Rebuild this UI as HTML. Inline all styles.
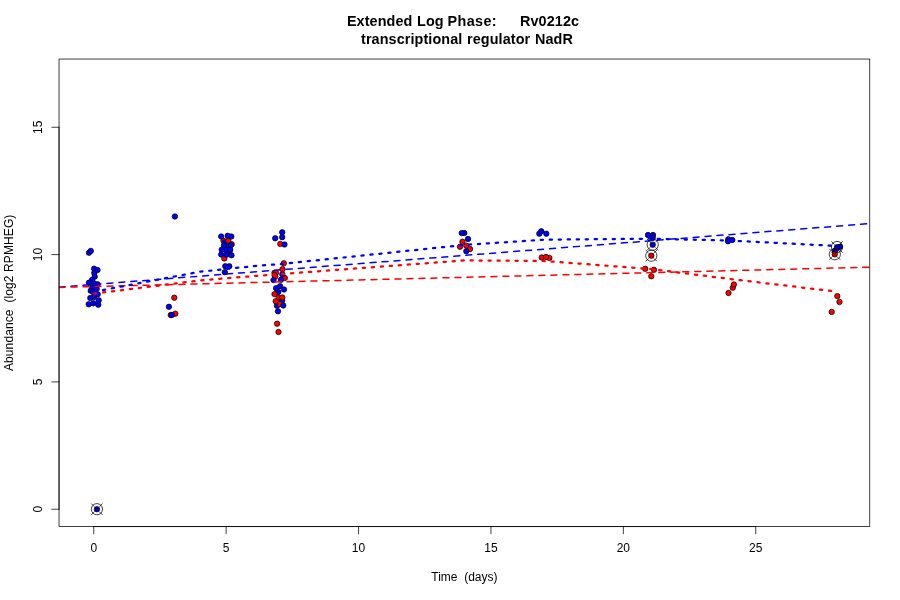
<!DOCTYPE html>
<html lang="en"><head><meta charset="utf-8"><title>Extended Log Phase: Rv0212c transcriptional regulator NadR</title>
<style>html,body{margin:0;padding:0;background:#fff}body{width:900px;height:600px;overflow:hidden}svg{display:block}text{font-family:"Liberation Sans",sans-serif;fill:#000;white-space:pre}.p circle{stroke:#000;stroke-width:.75}.b{fill:#00f}.r{fill:#f00}.m{fill:none;stroke:#000;stroke-width:.75}.mx{fill:none;stroke:#000;stroke-width:.75;stroke-opacity:.6}.ax{fill:none;stroke:#000;stroke-width:.75;stroke-linecap:round}.ln{fill:none;stroke-linecap:round;stroke-linejoin:round}</style></head><body>
<svg width="900" height="600" viewBox="0 0 900 600">
<rect width="900" height="600" fill="#fff"/>
<defs><clipPath id="c"><rect x="59.04" y="59.04" width="810.72" height="467.52"/></clipPath></defs>
<g clip-path="url(#c)">
<g class="p"><circle class="b" cx="97.6" cy="284.3" r="2.7"/><circle class="r" cx="274.5" cy="272.8" r="2.7"/><circle class="r" cx="276" cy="272.8" r="2.7"/><circle class="r" cx="274.6" cy="275.2" r="2.7"/><circle class="r" cx="275.3" cy="276.6" r="2.7"/></g>
<path class="ln" d="M59.04 287.2 L869.76 223.6" stroke="#00f" stroke-width="1.5" stroke-dasharray="6 6"/>
<g class="p"><circle class="b" cx="89" cy="252.7" r="2.7"/><circle class="b" cx="90.8" cy="250.9" r="2.7"/><circle class="b" cx="94.1" cy="268.7" r="2.7"/><circle class="b" cx="97.5" cy="270" r="2.7"/><circle class="b" cx="94.3" cy="273" r="2.7"/><circle class="b" cx="94.7" cy="276.7" r="2.7"/><circle class="b" cx="92" cy="280" r="2.7"/><circle class="b" cx="92.3" cy="287.6" r="2.7"/><circle class="b" cx="94" cy="297" r="2.7"/><circle class="b" cx="88.9" cy="282.7" r="2.7"/><circle class="b" cx="94" cy="283.3" r="2.7"/><circle class="b" cx="96.7" cy="288.7" r="2.7"/><circle class="b" cx="90.7" cy="290.7" r="2.7"/><circle class="b" cx="93" cy="292" r="2.7"/><circle class="b" cx="97.7" cy="294.3" r="2.7"/><circle class="b" cx="90.3" cy="298" r="2.7"/><circle class="b" cx="98.7" cy="300.3" r="2.7"/><circle class="b" cx="88.7" cy="304.3" r="2.7"/><circle class="b" cx="93.3" cy="303.3" r="2.7"/><circle class="b" cx="98.3" cy="304.7" r="2.7"/><circle class="b" cx="174.9" cy="216.5" r="2.7"/><circle class="r" cx="174.3" cy="297.7" r="2.7"/><circle class="b" cx="168.9" cy="306.8" r="2.7"/><circle class="r" cx="175.3" cy="313.7" r="2.7"/><circle class="r" cx="170.7" cy="315" r="2.7"/><circle class="b" cx="171.8" cy="315" r="2.7"/><circle class="r" cx="223.5" cy="240.7" r="2.7"/><circle class="r" cx="231.7" cy="244.2" r="2.7"/><circle class="r" cx="229.3" cy="253" r="2.7"/><circle class="r" cx="224.3" cy="258.5" r="2.7"/><circle class="b" cx="224.8" cy="242.5" r="2.7"/><circle class="b" cx="227.5" cy="245.4" r="2.7"/><circle class="b" cx="225.7" cy="249.8" r="2.7"/><circle class="r" cx="228.3" cy="240.8" r="2.7"/><circle class="b" cx="227.7" cy="235.8" r="2.7"/><circle class="b" cx="221.2" cy="236.5" r="2.7"/><circle class="b" cx="231.3" cy="236.5" r="2.7"/><circle class="b" cx="224" cy="245.3" r="2.7"/><circle class="b" cx="231" cy="245.1" r="2.7"/><circle class="b" cx="221.7" cy="249.7" r="2.7"/><circle class="b" cx="230.3" cy="249.7" r="2.7"/><circle class="b" cx="221.2" cy="254.5" r="2.7"/><circle class="b" cx="226.5" cy="254.7" r="2.7"/><circle class="b" cx="231.5" cy="255.3" r="2.7"/><circle class="b" cx="229.3" cy="266.3" r="2.7"/><circle class="b" cx="225.3" cy="266.2" r="2.7"/><circle class="b" cx="224.8" cy="272.2" r="2.7"/><circle class="b" cx="282.2" cy="232.3" r="2.7"/><circle class="b" cx="282.2" cy="237.2" r="2.7"/><circle class="b" cx="275.2" cy="238.3" r="2.7"/><circle class="r" cx="280.3" cy="243.9" r="2.7"/><circle class="b" cx="284.5" cy="244.5" r="2.7"/><circle class="r" cx="283.8" cy="263.3" r="2.7"/><circle class="r" cx="284.8" cy="278" r="2.7"/><circle class="b" cx="282.3" cy="274.3" r="2.7"/><circle class="r" cx="282.5" cy="269.2" r="2.7"/><circle class="b" cx="273.5" cy="280.1" r="2.7"/><circle class="b" cx="281" cy="279.7" r="2.7"/><circle class="b" cx="278.3" cy="292" r="2.7"/><circle class="b" cx="280.1" cy="286.2" r="2.7"/><circle class="b" cx="276.1" cy="288.2" r="2.7"/><circle class="b" cx="284" cy="289.5" r="2.7"/><circle class="r" cx="274.5" cy="294.1" r="2.7"/><circle class="r" cx="278.7" cy="297.7" r="2.7"/><circle class="b" cx="282.2" cy="300.6" r="2.7"/><circle class="r" cx="282.3" cy="297.5" r="2.7"/><circle class="b" cx="277" cy="305.7" r="2.7"/><circle class="r" cx="275.7" cy="301.2" r="2.7"/><circle class="r" cx="279.8" cy="304" r="2.7"/><circle class="b" cx="283.3" cy="305.5" r="2.7"/><circle class="b" cx="278" cy="311.3" r="2.7"/><circle class="r" cx="277.1" cy="323.7" r="2.7"/><circle class="r" cx="278.5" cy="332" r="2.7"/><circle class="b" cx="464.3" cy="233" r="2.7"/><circle class="b" cx="461.7" cy="233.1" r="2.7"/><circle class="b" cx="468" cy="239" r="2.7"/><circle class="r" cx="462.5" cy="241.7" r="2.7"/><circle class="r" cx="460" cy="246.7" r="2.7"/><circle class="r" cx="466.3" cy="245.7" r="2.7"/><circle class="r" cx="470" cy="249" r="2.7"/><circle class="b" cx="466.3" cy="251.2" r="2.7"/><circle class="b" cx="539.3" cy="233.7" r="2.7"/><circle class="b" cx="541.3" cy="231.3" r="2.7"/><circle class="b" cx="546.3" cy="233.7" r="2.7"/><circle class="r" cx="541.7" cy="257.5" r="2.7"/><circle class="r" cx="549.3" cy="257.9" r="2.7"/><circle class="r" cx="546" cy="257" r="2.7"/><circle class="b" cx="648" cy="235" r="2.7"/><circle class="b" cx="653" cy="235" r="2.7"/><circle class="b" cx="652.7" cy="238" r="2.7"/><circle class="b" cx="652.7" cy="244.7" r="2.7"/><circle class="r" cx="651.3" cy="255.7" r="2.7"/><circle class="r" cx="645.2" cy="268.8" r="2.7"/><circle class="r" cx="654" cy="269.8" r="2.7"/><circle class="r" cx="651.3" cy="276.3" r="2.7"/><circle class="b" cx="728.3" cy="239.3" r="2.7"/><circle class="b" cx="728" cy="241.3" r="2.7"/><circle class="b" cx="732.3" cy="240" r="2.7"/><circle class="r" cx="732.8" cy="287.7" r="2.7"/><circle class="r" cx="733.9" cy="284.5" r="2.7"/><circle class="r" cx="728.5" cy="293" r="2.7"/><circle class="b" cx="835" cy="250.8" r="2.7"/><circle class="b" cx="840" cy="246.8" r="2.7"/><circle class="b" cx="837" cy="247.2" r="2.7"/><circle class="r" cx="834.8" cy="254.3" r="2.7"/><circle class="r" cx="837.3" cy="296.1" r="2.7"/><circle class="r" cx="839.5" cy="301.9" r="2.7"/><circle class="r" cx="831.7" cy="311.9" r="2.7"/><circle class="b" cx="96.9" cy="509.2" r="2.7"/></g>
<circle class="m" cx="96.9" cy="509.2" r="5.6"/><path class="m" d="M93.9 506.2L91.3 503.6M93.9 512.2L91.3 514.8M99.9 506.2L102.5 503.6M99.9 512.2L102.5 514.8"/><path class="mx" d="M93.9 506.2L99.9 512.2M93.9 512.2L99.9 506.2"/><circle class="m" cx="652.7" cy="244.7" r="5.6"/><path class="m" d="M649.7 241.7L647.1 239.1M649.7 247.7L647.1 250.3M655.7 241.7L658.3 239.1M655.7 247.7L658.3 250.3"/><path class="mx" d="M649.7 241.7L655.7 247.7M649.7 247.7L655.7 241.7"/><circle class="m" cx="651.3" cy="255.7" r="5.6"/><path class="m" d="M648.3 252.7L645.7 250.1M648.3 258.7L645.7 261.3M654.3 252.7L656.9 250.1M654.3 258.7L656.9 261.3"/><path class="mx" d="M648.3 252.7L654.3 258.7M648.3 258.7L654.3 252.7"/><circle class="m" cx="837" cy="247" r="5.6"/><path class="m" d="M834 244L831.4 241.4M834 250L831.4 252.6M840 244L842.6 241.4M840 250L842.6 252.6"/><path class="mx" d="M834 244L840 250M834 250L840 244"/><circle class="m" cx="834.8" cy="254.3" r="5.6"/><path class="m" d="M831.8 251.3L829.2 248.7M831.8 257.3L829.2 259.9M837.8 251.3L840.4 248.7M837.8 257.3L840.4 259.9"/><path class="mx" d="M831.8 251.3L837.8 257.3M831.8 257.3L837.8 251.3"/>
<path class="ln" d="M59.04 287.4 L869.76 267.2" stroke="#f00" stroke-width="1.5" stroke-dasharray="6 6"/>
<path class="ln" d="M94.1 291.7 L200 271.7 L256 265.9 L279.1 264.2 L464.5 244.9 L543.9 239.7 L649.8 238.7 L729.3 240.55 L835.2 245.9" stroke="#00f" stroke-width="2.25" stroke-dasharray="2.25 6.75"/>
<path class="ln" d="M94.1 293.6 L200 280.4 L256 275.9 L279.1 274.2 L464.5 260.4 L543.9 261 L649.8 268.9 L729.3 278.9 L832.2 291.1" stroke="#f00" stroke-width="2.25" stroke-dasharray="2.25 6.75"/>
<g class="p"></g>
</g>
<rect class="ax" x="59.04" y="59.04" width="810.72" height="467.52"/>
<path class="ax" d="M93.75 526.56H755.75M93.75 526.56v7.2M226.15 526.56v7.2M358.55 526.56v7.2M490.95 526.56v7.2M623.35 526.56v7.2M755.75 526.56v7.2M59.04 509.24V127.28M59.04 509.24h-7.2M59.04 381.92h-7.2M59.04 254.6h-7.2M59.04 127.28h-7.2"/>
<text x="93.75" y="551.6" font-size="12" text-anchor="middle">0</text>
<text x="226.15" y="551.6" font-size="12" text-anchor="middle">5</text>
<text x="358.55" y="551.6" font-size="12" text-anchor="middle">10</text>
<text x="490.95" y="551.6" font-size="12" text-anchor="middle">15</text>
<text x="623.35" y="551.6" font-size="12" text-anchor="middle">20</text>
<text x="755.75" y="551.6" font-size="12" text-anchor="middle">25</text>
<text transform="translate(41.7 509.24) rotate(-90)" font-size="12" text-anchor="middle">0</text>
<text transform="translate(41.7 381.92) rotate(-90)" font-size="12" text-anchor="middle">5</text>
<text transform="translate(41.7 254.6) rotate(-90)" font-size="12" text-anchor="middle">10</text>
<text transform="translate(41.7 127.28) rotate(-90)" font-size="12" text-anchor="middle">15</text>
<text x="464.4" y="580.7" font-size="12" text-anchor="middle" xml:space="preserve">Time  (days)</text>
<text transform="translate(12.6 292.8) rotate(-90)" font-size="12" text-anchor="middle" letter-spacing="0.1" xml:space="preserve">Abundance  (log2 RPMHEG)</text>
<text y="25.5" font-size="14.4" font-weight="bold" letter-spacing="0.1" xml:space="preserve"><tspan x="346.9">Extended</tspan><tspan> </tspan><tspan x="417">Log</tspan><tspan> </tspan><tspan x="447.6" letter-spacing="0.35">Phase:</tspan><tspan>      </tspan><tspan x="520">Rv0212c</tspan></text>
<text y="43.7" font-size="14.4" font-weight="bold" letter-spacing="0.1" xml:space="preserve"><tspan x="361">transcriptional</tspan><tspan> </tspan><tspan x="467">regulator</tspan><tspan> </tspan><tspan x="535">NadR</tspan></text>
</svg></body></html>
